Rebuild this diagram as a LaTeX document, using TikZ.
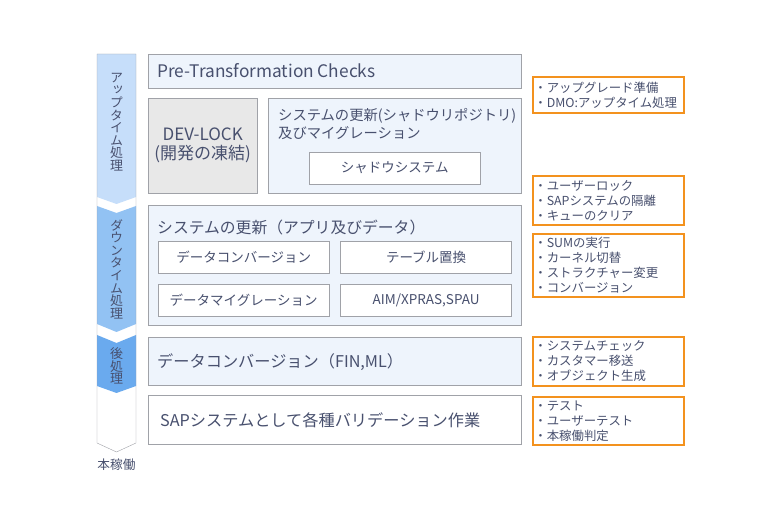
\documentclass[tikz,border=0pt]{standalone}
\usepackage{fontspec}
\setmainfont{Noto Sans CJK JP}
\newfontfamily\vertfont[RawFeature=+vert]{Noto Sans CJK JP}
\usetikzlibrary{positioning}

\definecolor{txt}{RGB}{72,80,110}
\definecolor{boxline}{RGB}{160,162,168}
\definecolor{boxfill}{RGB}{238,244,252}
\definecolor{lockfill}{RGB}{232,232,232}
\definecolor{noteline}{RGB}{243,146,30}
\definecolor{upfill}{RGB}{198,222,250}
\definecolor{downfill}{RGB}{146,194,243}
\definecolor{postfill}{RGB}{106,170,238}

\begin{document}
\begin{tikzpicture}[x=1pt, y=-1pt, every node/.style={text=txt, inner sep=0pt},
    box/.style={draw=boxline, fill=boxfill, anchor=north west, minimum width=373pt},
    sub/.style={draw=boxline, fill=white, anchor=north west, minimum width=171pt, minimum height=32pt, font=\fontsize{13.5}{16}\selectfont},
    note/.style={draw=noteline, line width=1.8pt, fill=white, anchor=north west, minimum width=151pt, text width=148pt, align=left, font=\fontsize{12.4}{15}\selectfont},
    title/.style={anchor=west, align=left, font=\fontsize{16.2}{18}\selectfont},
    phase/.style={align=center, font=\vertfont\fontsize{13}{12.6}\selectfont}]
        \useasboundingbox (0,0) rectangle (780,526);

        % Phase column
        \path[fill=white] (97,54) -- (136,54) -- (136,443) -- (116.5,452) -- (97,443) -- cycle;
        \fill[upfill] (97,54) -- (136,54) -- (136,197) -- (116.5,204) -- (97,197) -- cycle;
        \fill[downfill] (97,206) -- (116.5,213) -- (136,206) -- (136,324) -- (116.5,332) -- (97,324) -- cycle;
        \fill[postfill] (97,335) -- (116.5,343) -- (136,335) -- (136,386) -- (116.5,393) -- (97,386) -- cycle;
        \draw[boxline] (97,54) -- (136,54) -- (136,443) -- (116.5,452) -- (97,443) -- cycle;

        \node[phase] (up) at (116.5,122) {ア\\ッ\\プ\\タ\\イ\\ム\\処\\理};
        \node[phase] (down) at (116.5,269) {ダ\\ウ\\ン\\タ\\イ\\ム\\処\\理};
        \node[phase] (post) at (116.5,366) {後\\処\\理};
        \node[font=\fontsize{12.7}{15}\selectfont] (live) at (116.5,465) {本稼働};

        % Uptime boxes
        \node[box, minimum height=34pt] (pre) at (148,54) {};
        \node[title, font=\fontsize{17.3}{18}\selectfont] (preT) at (157,71) {Pre-Transformation Checks};

        \node[box, fill=lockfill, minimum width=109pt, minimum height=95pt, align=center, font=\fontsize{17}{19}\selectfont] (lock) at (148,98) {DEV-LOCK\\(開発の凍結)};

        \node[box, minimum width=253pt, minimum height=95pt] (shadow) at (268,98) {};
        \node[title, font=\fontsize{14.3}{18}\selectfont] (shadowT) at (278,124) {システムの更新(シャドウリポジトリ)\\及びマイグレーション};
        \node[sub, minimum width=171pt] (shadowsys) at (309,152) {シャドウシステム};

        % Downtime boxes
        \node[box, minimum height=120pt] (upd) at (148,205) {};
        \node[title, font=\fontsize{15.8}{18}\selectfont] (updT) at (157,227) {システムの更新（アプリ及びデータ）};
        \node[sub] (conv) at (158,241) {データコンバージョン};
        \node[sub, right=11pt of conv] (table) {テーブル置換};
        \node[sub, below=11pt of conv] (mig) {データマイグレーション};
        \node[sub, right=11pt of mig] (aim) {AIM/XPRAS,SPAU};

        % Post-processing and go-live boxes
        \node[box, minimum height=48pt] (fin) at (148,337) {};
        \node[title] (finT) at (157,362) {データコンバージョン（FIN,ML）};

        \node[box, fill=white, minimum height=49pt] (val) at (148,395) {};
        \node[title] (valT) at (160,420) {SAPシステムとして各種バリデーション作業};

        % Notes
        \node[note, minimum height=36pt] (n1) at (532,76) {・アップグレード準備\\・DMO:アップタイム処理};
        \node[note, minimum height=49pt] (n2) at (532,175) {・ユーザーロック\\・SAPシステムの隔離\\・キューのクリア};
        \node[note, minimum height=63pt] (n3) at (532,233) {・SUMの実行\\・カーネル切替\\・ストラクチャー変更\\・コンバージョン};
        \node[note, minimum height=49pt] (n4) at (532,336) {・システムチェック\\・カスタマー移送\\・オブジェクト生成};
        \node[note, minimum height=48pt] (n5) at (532,396) {・テスト\\・ユーザーテスト\\・本稼働判定};

    \end{tikzpicture}
\end{document}
